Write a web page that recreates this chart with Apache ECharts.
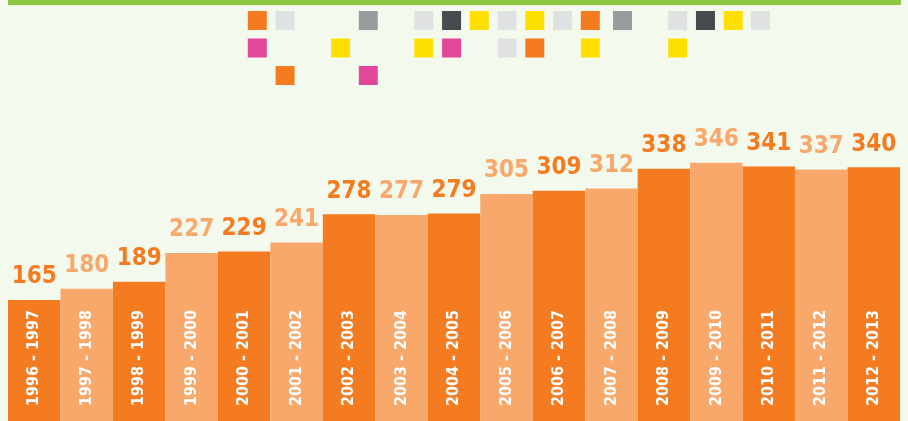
<!DOCTYPE html>
<html>
<head>
<meta charset="utf-8">
<script src="https://cdn.jsdelivr.net/npm/echarts@6/dist/echarts.min.js"></script>
<style>
html,body{margin:0;padding:0;background:#F4F9EE;}
#c{width:908px;height:421px;}
</style>
</head>
<body>
<div id="c"></div>
<script>
// Data
const categories = ['1996 - 1997','1997 - 1998','1998 - 1999','1999 - 2000','2000 - 2001','2001 - 2002','2002 - 2003','2003 - 2004','2004 - 2005','2005 - 2006','2006 - 2007','2007 - 2008','2008 - 2009','2009 - 2010','2010 - 2011','2011 - 2012','2012 - 2013'];
const values = [165,180,189,227,229,241,278,277,279,305,309,312,338,346,341,337,340];
const barColors = ['#F47B20','#F9A86C'];

// Decorative squares (column index, row index, colour key)
const squareCols = [0,1,4,6,7,8,9,10,11,12,13.16,15.15,16.15,17.15,18.13, 0,3,6,7,9,10,12,15.15, 1,4];
const squareRows = [0,0,0,0,0,0,0,0,0,0,0,0,0,0,0, 1,1,1,1,1,1,1,1, 2,2];
const squareKinds = ['orange','light','gray','light','dark','yellow','light','yellow','light','orange','gray','light','dark','yellow','light',
  'pink','yellow','yellow','pink','light','orange','yellow','yellow',
  'orange','pink'];
const squarePalette = {orange:'#F47B20', light:'#E0E1E3', gray:'#9A9D9F', dark:'#474A4F', yellow:'#FFDF00', pink:'#E2479A'};

const font = "'Liberation Sans Narrow','DejaVu Sans Condensed',sans-serif";

const barData = values.map((v,i)=>({
  value: v,
  itemStyle: {color: barColors[i%2]},
  label: {color: barColors[i%2]}
}));
const squareData = squareCols.map((c,i)=>({
  value: [c, squareRows[i]],
  itemStyle: {color: squarePalette[squareKinds[i]], opacity: 1}
}));

const chart = echarts.init(document.getElementById('c'));
chart.setOption({
  backgroundColor: '#F4F9EE',
  animation: false,
  graphic: [{
    type: 'rect', shape: {x: 8, y: 0, width: 893, height: 5},
    style: {fill: '#8DC63F'}, silent: true
  }],
  grid: [
    {left: 8, right: 8, top: 46, bottom: 0},
    {left: 257.3, top: 20.5, width: 18.13*27.75, height: 55}
  ],
  xAxis: [
    {type: 'category', data: categories, gridIndex: 0, z: 10,
     axisLine: {show: false}, axisTick: {show: false},
     axisLabel: {inside: true, rotate: 90, interval: 0, margin: 15, color: '#fff',
       fontSize: 16, fontWeight: 'bold', fontFamily: font}},
    {type: 'value', gridIndex: 1, min: 0, max: 18.13, show: false}
  ],
  yAxis: [
    {type: 'value', gridIndex: 0, min: 5.5, max: 500, show: false, splitLine: {show: false}},
    {type: 'value', gridIndex: 1, min: 0, max: 2, inverse: true, show: false}
  ],
  series: [
    {type: 'bar', xAxisIndex: 0, yAxisIndex: 0, data: barData, barCategoryGap: 0, barGap: 0,
     label: {show: true, position: 'top', distance: 11, fontSize: 24, fontWeight: 'bold', fontFamily: font}},
    {type: 'scatter', xAxisIndex: 1, yAxisIndex: 1, symbol: 'rect', symbolSize: [19,19],
     data: squareData, silent: true}
  ]
});
</script>
</body>
</html>
